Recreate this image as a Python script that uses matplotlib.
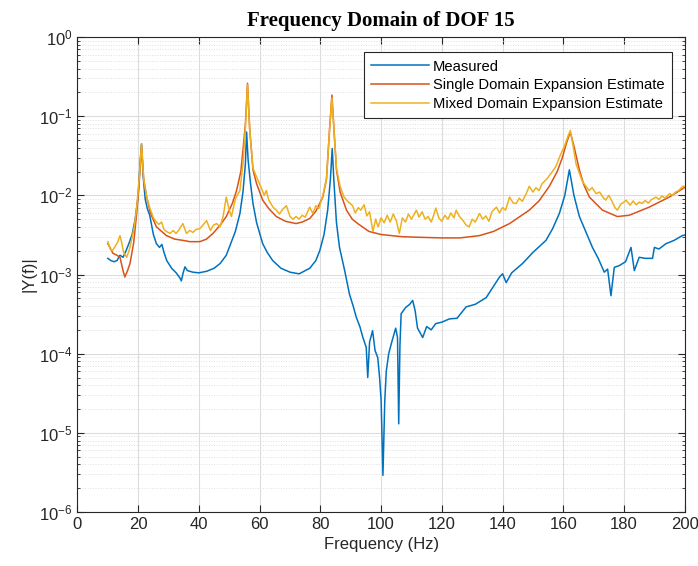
import matplotlib
matplotlib.use("Agg")
import matplotlib.pyplot as plt
from matplotlib.ticker import LogLocator, MultipleLocator, NullFormatter

# Measured FRF
meas_f = [10, 11, 12, 13, 14, 15, 16, 17, 18, 19, 20, 20.6, 21.1, 21.6, 22.3, 23, 23.8,
          25, 26, 27, 27.8, 28.5, 29.4, 31, 32.5, 33.7, 34.2, 34.8, 35.4, 36.2, 38, 40,
          42.6, 45, 47, 49, 50, 52, 53.5, 54.5, 55.3, 55.7, 56.2, 57, 57.8, 59, 61, 62.5,
          64.3, 67, 70, 73, 76.5, 78.5, 79.8, 81.2, 82.4, 83.3, 83.9, 84.5, 85.3, 86.3,
          88, 89.6, 90.8, 91.8, 93, 94, 95.1, 95.6, 96.2, 97.2, 98, 98.9, 99.5, 100,
          100.6, 101.2, 101.7, 102.5, 103.5, 104.8, 105.4, 105.8, 106.2, 106.6, 108,
          109.4, 110.4, 111.2, 112, 113.7, 115, 116.5, 118, 120, 122.5, 125, 128, 131,
          134.6, 137, 139, 140, 141.2, 143, 146.6, 150, 154.3, 156.5, 158.7, 160.5, 162,
          163.5, 165.3, 167.5, 169.6, 171.5, 173.5, 174.6, 175.7, 176.8, 178.5, 180.5,
          182.3, 183.4, 185, 187, 189.4, 190, 191.5, 193.8, 196.5, 199.2, 200]
meas_y = [1.6e-3, 1.5e-3, 1.45e-3, 1.5e-3, 1.75e-3, 1.65e-3, 2.0e-3, 2.5e-3, 3.2e-3, 5.0e-3,
          1.0e-2, 2.5e-2, 4.5e-2, 1.8e-2, 9e-3, 6.8e-3, 5.6e-3,
          3.2e-3, 2.45e-3, 2.2e-3, 2.4e-3, 1.9e-3, 1.5e-3, 1.2e-3, 1.05e-3, 9.1e-4, 8.3e-4,
          1.05e-3, 1.25e-3, 1.12e-3, 1.07e-3, 1.05e-3,
          1.1e-3, 1.2e-3, 1.38e-3, 1.75e-3, 2.2e-3, 3.5e-3, 5.9e-3, 1.1e-2, 2.5e-2, 6.3e-2,
          2.8e-2, 1.4e-2, 7.9e-3, 4.5e-3, 2.45e-3, 1.9e-3,
          1.5e-3, 1.2e-3, 1.07e-3, 1.02e-3, 1.2e-3, 1.5e-3, 2.0e-3, 3.2e-3, 6.5e-3, 1.6e-2,
          3.9e-2, 1.4e-2, 4.5e-3, 2.2e-3,
          1.12e-3, 5.6e-4, 4.0e-4, 2.9e-4, 2.2e-4, 1.6e-4, 1.2e-4, 5e-5, 1.4e-4, 1.95e-4,
          1.1e-4, 8.9e-5, 5e-5, 2.6e-5,
          2.9e-6, 2.5e-5, 6e-5, 1e-4, 1.4e-4, 2.1e-4, 1.6e-4, 1.3e-5, 1.26e-4, 3.2e-4, 3.8e-4,
          4.2e-4, 4.7e-4, 3.5e-4, 2.1e-4, 1.6e-4, 2.2e-4, 2.0e-4, 2.4e-4, 2.5e-4, 2.75e-4,
          2.8e-4, 3.9e-4, 4.2e-4,
          5.1e-4, 7.1e-4, 9.3e-4, 1.02e-3, 7.9e-4, 1.05e-3, 1.38e-3, 1.9e-3, 2.7e-3, 3.8e-3,
          5.9e-3, 1.0e-2, 2.1e-2,
          1.0e-2, 5.4e-3, 3.4e-3, 2.2e-3, 1.6e-3, 1.07e-3, 1.17e-3, 5.4e-4, 1.23e-3, 1.3e-3,
          1.45e-3,
          2.2e-3, 1.12e-3, 1.65e-3, 1.6e-3, 1.6e-3, 2.2e-3, 2.1e-3, 2.45e-3, 2.7e-3, 3.1e-3,
          3.15e-3]

# Single domain expansion estimate
single_f = [10, 11.7, 13, 14, 15, 15.6, 16.5, 17.3, 18.5, 19.5, 20.3, 21.1, 21.8, 22.8, 24,
            26, 29.3, 32, 34.7, 37, 40.3, 42.5, 44.6, 47, 49, 51, 52.4, 53.8, 54.5, 55.3,
            56, 56.7, 57.8, 59, 61, 63, 65.5, 68.5, 72, 74, 76.5, 78.5, 80.8, 82, 83, 83.8,
            84.6, 85.3, 86.5, 88.6, 90.5, 92.3, 96, 100, 107, 113, 120, 126, 132.4, 137,
            142.3, 148.8, 152, 155.4, 158, 159.7, 161, 162.3, 163.5, 165.3, 166.8, 168.6,
            172.9, 177.8, 181.7, 185, 188.3, 194.9, 200]
single_y = [2.45e-3, 1.85e-3, 1.75e-3, 1.65e-3, 1.12e-3, 9.3e-4, 1.12e-3, 1.38e-3, 2.5e-3,
            5.9e-3, 1.4e-2, 4.3e-2, 1.6e-2, 9.5e-3, 6.0e-3,
            4.0e-3, 3.1e-3, 2.8e-3, 2.7e-3, 2.6e-3, 2.6e-3, 2.8e-3, 3.3e-3, 4.2e-3, 5.4e-3,
            7.9e-3, 1.15e-2, 2.0e-2, 3.7e-2, 7.9e-2,
            0.26, 7.1e-2, 2.1e-2, 1.4e-2, 8.7e-3, 6.8e-3, 5.4e-3, 4.7e-3, 4.4e-3, 4.6e-3,
            5.1e-3, 6.3e-3, 9.5e-3, 1.6e-2, 6.6e-2, 0.185,
            5.6e-2, 2.1e-2, 1.1e-2, 6.5e-3, 5.0e-3, 4.4e-3, 3.5e-3, 3.2e-3, 3.0e-3, 2.95e-3,
            2.9e-3, 2.9e-3, 3.1e-3, 3.5e-3,
            4.4e-3, 6.5e-3, 8.5e-3, 1.3e-2, 2.0e-2, 3.0e-2, 4.5e-2, 6.3e-2, 4.2e-2, 2.1e-2,
            1.35e-2, 9.5e-3,
            6.5e-3, 5.4e-3, 5.6e-3, 6.3e-3, 7.1e-3, 9.5e-3, 1.26e-2]

# Mixed domain expansion estimate
mixed_f = [10, 10.8, 11.5, 12.5, 13.3, 14, 14.6, 15.2, 16.2, 17, 17.8, 18.7, 19.5, 20.3,
           21.1, 21.8, 22.8, 23.8, 25, 26, 26.8, 27.7, 28.5, 29.3, 30.5, 31.5, 32.5, 33.5,
           34.7, 35.9, 37, 38, 39, 40.3, 41.3, 42.5, 43.8, 44.8, 45.8, 47, 48, 49, 50,
           50.7, 52, 53.5, 54.5, 55.3, 56, 56.7, 57.8, 59, 60.5, 61.5, 62.2, 63, 64.5,
           65.5, 66.5, 67.5, 68.8, 70, 71, 72, 73, 74, 75, 76.5, 77.5, 78.5, 79.5, 80.8,
           82, 83, 83.8, 84.6, 85.3, 86.5, 87.8, 89, 90.6, 91.5, 92.5, 93.3, 94.4, 95.3,
           96.2, 97.3, 98.2, 99, 100, 101, 102, 103, 104, 105, 106, 107, 108, 109, 110,
           111.6, 112.5, 113.5, 114.5, 115.5, 116.5, 117.3, 118, 119, 120, 121, 122, 123,
           124, 124.7, 125.8, 127, 128, 129, 130, 131, 132.4, 133.5, 134.5, 135.5, 136.5,
           138, 139, 140, 141, 142.3, 143.5, 144.5, 145.5, 146.5, 147.8, 148.8, 150, 151,
           152, 153, 154.5, 156, 157.5, 159, 160.5, 161.5, 162.3, 163.2, 164.2, 165.3,
           166.3, 167.5, 168.5, 169.5, 170.8, 172, 173, 174, 175, 176, 177, 177.8, 179,
           180, 180.7, 182, 183, 184, 185, 186, 187, 188, 189, 190.5, 191.5, 192.5, 193.5,
           195, 196, 197, 198, 199.3, 200]
mixed_y = [2.6e-3, 2.1e-3, 2.0e-3, 2.3e-3, 2.6e-3, 3.1e-3, 2.5e-3, 1.9e-3, 1.65e-3, 2.0e-3,
           2.7e-3, 4.0e-3, 7.0e-3, 1.6e-2,
           4.5e-2, 1.6e-2, 9.5e-3, 7.0e-3, 5.2e-3, 4.6e-3, 4.3e-3, 4.6e-3, 3.7e-3, 3.5e-3,
           3.3e-3, 3.6e-3, 3.3e-3, 3.7e-3,
           4.4e-3, 3.3e-3, 3.6e-3, 3.4e-3, 3.7e-3, 3.8e-3, 4.2e-3, 4.8e-3, 3.6e-3, 4.2e-3,
           4.4e-3, 4.0e-3, 5.5e-3, 9.5e-3, 6.5e-3,
           5.4e-3, 9e-3, 1.15e-2, 2.5e-2, 7e-2, 0.25, 7e-2, 2.2e-2, 1.7e-2, 1.25e-2, 1.0e-2,
           1.15e-2, 8.7e-3, 7.0e-3,
           6.5e-3, 5.8e-3, 6.6e-3, 7.4e-3, 5.4e-3, 5.0e-3, 5.4e-3, 5.0e-3, 5.6e-3, 5.3e-3,
           7.1e-3, 5.9e-3, 7.4e-3, 6.8e-3, 1.0e-2,
           1.6e-2, 6.6e-2, 0.17, 5.6e-2, 2.2e-2, 1.3e-2, 9.5e-3, 8.4e-3, 7.4e-3, 6.0e-3,
           7.0e-3, 6.5e-3, 7.6e-3, 5.5e-3,
           6.2e-3, 3.5e-3, 5.0e-3, 4.0e-3, 5.2e-3, 4.5e-3, 5.6e-3, 4.6e-3, 5.8e-3, 4.8e-3,
           3.3e-3, 5.2e-3, 4.6e-3, 5.8e-3, 5.0e-3,
           6.5e-3, 5.3e-3, 6.2e-3, 5.0e-3, 5.4e-3, 4.6e-3, 5.6e-3, 6.9e-3, 5.2e-3, 4.7e-3,
           5.6e-3, 5.0e-3, 6.0e-3,
           5.2e-3, 6.5e-3, 5.4e-3, 4.8e-3, 4.2e-3, 4.0e-3, 5.0e-3, 4.6e-3, 5.9e-3, 5.0e-3,
           5.5e-3, 4.7e-3, 6.2e-3,
           7.1e-3, 6.0e-3, 7.0e-3, 6.5e-3, 9.5e-3, 8.0e-3, 7.9e-3, 9.2e-3, 8.4e-3, 1.05e-2,
           1.3e-2, 1.1e-2, 1.25e-2,
           1.15e-2, 1.4e-2, 1.6e-2, 1.9e-2, 2.3e-2, 3.2e-2, 4.3e-2, 5.5e-2, 6.6e-2, 4.3e-2,
           2.5e-2, 1.9e-2,
           1.5e-2, 1.3e-2, 1.15e-2, 1.25e-2, 1.05e-2, 1.1e-2, 9.5e-3, 8.7e-3, 1.0e-2, 8.5e-3,
           7.0e-3, 6.5e-3, 7.8e-3,
           8.2e-3, 8.7e-3, 7.5e-3, 8.5e-3, 7.6e-3, 8.2e-3, 7.9e-3, 8.6e-3, 8.0e-3, 8.8e-3,
           9.5e-3, 8.9e-3, 9.8e-3, 9.2e-3,
           1.05e-2, 1.0e-2, 1.1e-2, 1.15e-2, 1.3e-2, 1.3e-2]

labels = ['Measured', 'Single Domain Expansion Estimate', 'Mixed Domain Expansion Estimate']
colors = ['#0072BD', '#D95319', '#EDB120']

plt.rcParams['font.family'] = ['Liberation Sans', 'DejaVu Sans']

fig = plt.figure(figsize=(6.98, 5.66), dpi=100)
ax = fig.add_axes([0.111, 0.0954, 0.870, 0.8392])

ax.plot(meas_f, meas_y, color=colors[0], lw=1.1, label=labels[0])
ax.plot(single_f, single_y, color=colors[1], lw=1.1, label=labels[1])
ax.plot(mixed_f, mixed_y, color=colors[2], lw=1.1, label=labels[2])

ax.set_yscale('log')
ax.set_xlim(0, 200)
ax.set_ylim(1e-6, 1e0)
ax.xaxis.set_major_locator(MultipleLocator(20))
ax.yaxis.set_major_locator(LogLocator(base=10, numticks=10))
ax.yaxis.set_minor_locator(LogLocator(base=10, subs=range(2, 10), numticks=20))
ax.yaxis.set_minor_formatter(NullFormatter())

ax.grid(True, which='major', color='#dcdcdc', lw=0.8)
ax.grid(True, which='minor', axis='y', color='#e0e0e0', lw=0.7, ls=':')
ax.set_axisbelow(True)

ax.tick_params(which='both', direction='in', top=True, right=True, labelsize=12,
               colors='#262626')
ax.tick_params(which='major', length=5)
ax.tick_params(which='minor', length=2.5, labelleft=False, labelbottom=False)
for s in ax.spines.values():
    s.set_color('#262626')
    s.set_linewidth(0.8)

ax.set_xlabel('Frequency (Hz)', fontsize=12, color='#262626')
ax.set_ylabel('|Y(f)|', fontsize=12, color='#262626', labelpad=2)
ax.set_title('Frequency Domain of DOF 15', fontsize=15, fontweight='bold',
             family='Liberation Serif', pad=8)

leg = ax.legend(loc='upper right', bbox_to_anchor=(0.979, 0.968), fontsize=10.6,
                handlelength=3.9, fancybox=False, framealpha=1, edgecolor='#262626',
                borderpad=0.5, labelspacing=0.32, handletextpad=0.3, borderaxespad=0)
leg.get_frame().set_linewidth(0.8)

fig.savefig('out.png', dpi=100)
